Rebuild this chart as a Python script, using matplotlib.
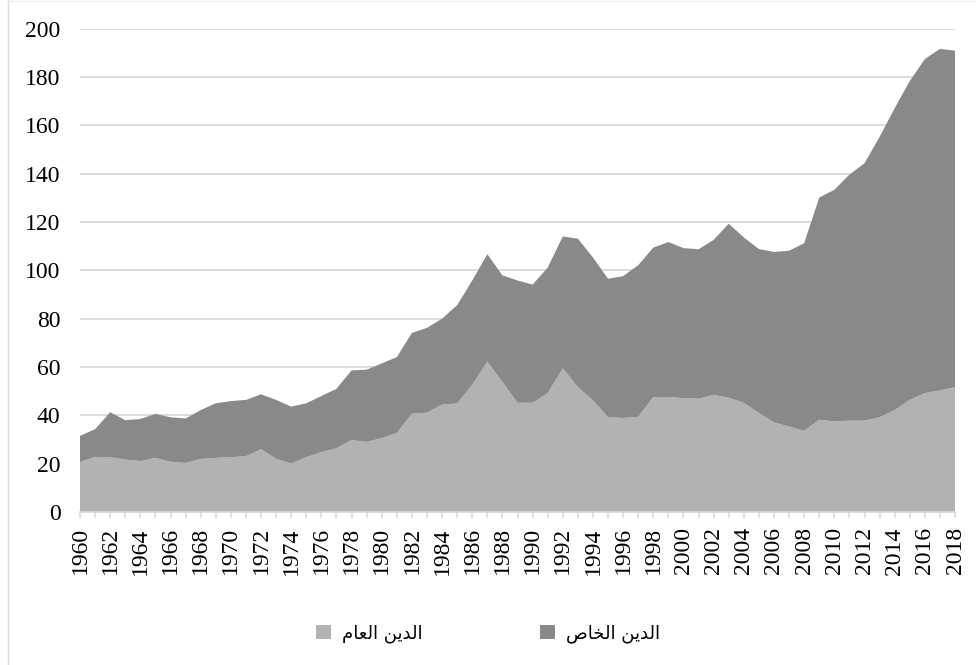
import numpy as np
import matplotlib
matplotlib.use("Agg")
import matplotlib.pyplot as plt
from matplotlib.patches import Patch
from matplotlib.lines import Line2D


# ==========================
# Dati
# ==========================

years = list(range(1960, 2019))

# debito pubblico (area chiara, in basso)
public_debt = [
    20.7, 22.8, 22.7, 21.7, 21.1, 22.4, 20.8, 20.3, 22.0, 22.4,
    22.7, 23.1, 26.0, 22.0, 20.1, 22.7, 24.8, 26.4, 29.8, 29.0,
    30.6, 32.7, 40.7, 41.1, 44.5, 44.9, 52.7, 62.2, 53.8, 45.2,
    45.2, 49.2, 59.4, 51.7, 46.2, 39.3, 38.9, 39.4, 47.6, 47.6,
    47.1, 46.9, 48.5, 47.3, 45.2, 41.0, 37.1, 35.4, 33.6, 38.2,
    37.5, 37.8, 37.8, 39.2, 42.2, 46.4, 49.2, 50.3, 51.7,
]

# debito privato (area scura, sopra)
private_debt = [
    10.8, 11.5, 18.6, 16.3, 17.4, 18.2, 18.4, 18.4, 20.2, 22.6,
    23.2, 23.3, 22.7, 24.4, 23.5, 22.3, 23.2, 24.6, 28.8, 29.9,
    30.9, 31.4, 33.4, 35.1, 35.5, 40.7, 43.1, 44.5, 44.1, 50.6,
    48.9, 51.9, 54.6, 61.4, 59.1, 57.2, 58.7, 62.7, 61.8, 64.1,
    62.1, 61.8, 64.1, 72.0, 68.4, 67.8, 70.5, 72.7, 77.6, 91.9,
    95.8, 101.8, 106.5, 116.0, 124.9, 131.9, 138.2, 141.3, 139.2,
]

label_public = "الدين العام"
label_private = "الدين الخاص"

y_ticks = list(range(0, 201, 20))


# ==========================
# Shaping arabo minimale (matplotlib non lo fa da solo)
# ==========================

# lettera: (isolata, finale, iniziale, mediale); None = non si lega a sinistra
arabic_forms = {
    "ا": ("\uFE8D", "\uFE8E", None, None),
    "د": ("\uFEA9", "\uFEAA", None, None),
    "ل": ("\uFEDD", "\uFEDE", "\uFEDF", "\uFEE0"),
    "ي": ("\uFEF1", "\uFEF2", "\uFEF3", "\uFEF4"),
    "ن": ("\uFEE5", "\uFEE6", "\uFEE7", "\uFEE8"),
    "ع": ("\uFEC9", "\uFECA", "\uFECB", "\uFECC"),
    "م": ("\uFEE1", "\uFEE2", "\uFEE3", "\uFEE4"),
    "خ": ("\uFEA5", "\uFEA6", "\uFEA7", "\uFEA8"),
    "ص": ("\uFEB9", "\uFEBA", "\uFEBB", "\uFEBC"),
}


def shape_arabic(text):
    out = []
    for i, ch in enumerate(text):
        if ch not in arabic_forms:
            out.append(ch)
            continue
        prev = text[i - 1] if i > 0 else ""
        nxt = text[i + 1] if i + 1 < len(text) else ""
        join_prev = prev in arabic_forms and arabic_forms[prev][2] is not None
        join_next = arabic_forms[ch][2] is not None and nxt in arabic_forms
        isol, fina, init, medi = arabic_forms[ch]
        if join_prev and join_next:
            out.append(medi)
        elif join_prev:
            out.append(fina)
        elif join_next:
            out.append(init)
        else:
            out.append(isol)
    # ordine visivo da sinistra a destra
    return "".join(reversed(out))


# ==========================
# Plot
# ==========================

color_public = "#b2b2b2"
color_private = "#898989"
grid_color = "#d9d9d9"

fig = plt.figure(figsize=(9.76, 6.65), dpi=100)
ax = fig.add_axes([0.082, 0.230, 0.8965, 0.727])

ax.stackplot(years, public_debt, private_debt,
             colors=[color_public, color_private], linewidth=0, zorder=2)

ax.set_xlim(years[0], years[-1])
ax.set_ylim(0, 200)
ax.set_yticks(y_ticks)
ax.yaxis.grid(True, color=grid_color, linewidth=1.3, zorder=0)
ax.set_axisbelow(True)

ax.set_xticks(years)
ax.set_xticklabels([str(y) if (y - years[0]) % 2 == 0 else "" for y in years],
                   rotation=90)

for side in ["top", "right", "left"]:
    ax.spines[side].set_visible(False)
ax.spines["bottom"].set_color(grid_color)
ax.spines["bottom"].set_linewidth(1.3)
ax.spines["bottom"].set_zorder(3)

serif = ["Liberation Serif", "DejaVu Serif"]
ax.tick_params(axis="y", length=0, pad=14, labelsize=17)
ax.tick_params(axis="x", length=4, width=1.2, color=grid_color, pad=7,
               labelsize=17)
for lab in ax.get_xticklabels() + ax.get_yticklabels():
    lab.set_family(serif)
    lab.set_color("#000000")

handles = [
    Patch(facecolor=color_public, edgecolor="none"),
    Patch(facecolor=color_private, edgecolor="none"),
]
fig.legend(handles, [shape_arabic(label_public), shape_arabic(label_private)],
           loc="center", bbox_to_anchor=(0.5, 0.047), ncol=2, frameon=False,
           prop={"family": "DejaVu Sans", "size": 13},
           handlelength=0.85, handleheight=0.85, handletextpad=0.6,
           columnspacing=6.5)

# bordo sottile del riquadro
fig.add_artist(Line2D([0.008, 0.008], [0, 1], transform=fig.transFigure,
                      color="#d9d9d9", linewidth=1.0))
fig.add_artist(Line2D([0.008, 1], [0.999, 0.999], transform=fig.transFigure,
                      color="#eeeeee", linewidth=1.0))

fig.savefig("out.png", dpi=100, facecolor="white")
